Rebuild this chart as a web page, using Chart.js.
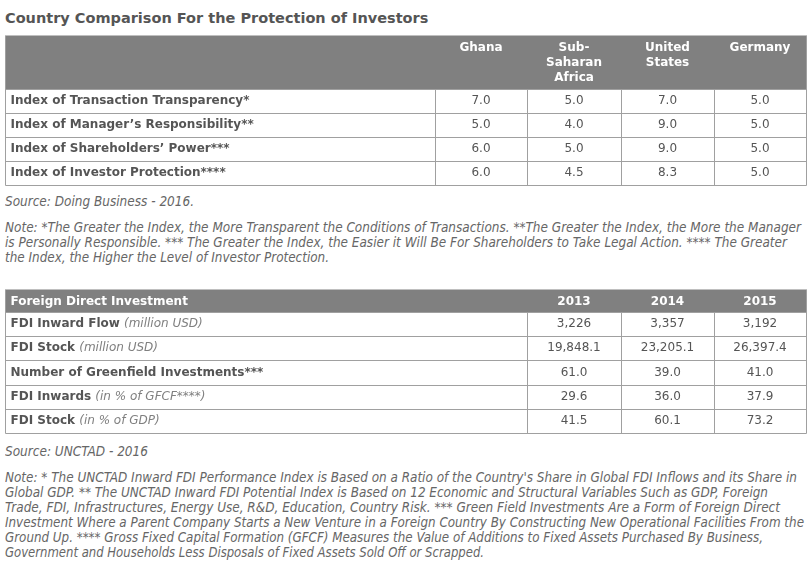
<!DOCTYPE html>
<html>
<head>
<meta charset="utf-8">
<script src="https://cdn.jsdelivr.net/npm/chart.js@4.4.0/dist/chart.umd.min.js"></script>
<style>
body { margin: 0; background: #fff; width: 812px; height: 575px; position: relative; overflow: hidden;
  font-family: "DejaVu Sans", Verdana, sans-serif; color: #555; }
.title { position: absolute; left: 5px; top: 10px; font-size: 14.5px; line-height: 17px; font-weight: bold; color: #555; white-space: nowrap; }
canvas { position: absolute; left: 0; }
.note { position: absolute; left: 5px; font-family: "Liberation Sans Narrow", "DejaVu Sans Condensed", sans-serif;
  font-style: italic; font-size: 13.4px; line-height: 15px; color: #666; white-space: nowrap; }
.note span { display: block; width: max-content; transform-origin: 0 0; }
</style>
</head>
<body>
<div class="title">Country Comparison For the Protection of Investors</div>
<canvas id="protection" width="812" height="160" style="top:30px"></canvas>
<div class="note" style="top:194px"><span>Source: Doing Business - 2016.</span></div>
<div class="note" style="top:220px"><span>Note: *The Greater the Index, the More Transparent the Conditions of Transactions. **The Greater the Index, the More the Manager</span><span>is Personally Responsible. *** The Greater the Index, the Easier it Will Be For Shareholders to Take Legal Action. **** The Greater</span><span>the Index, the Higher the Level of Investor Protection.</span></div>
<canvas id="fdi" width="812" height="155" style="top:285px"></canvas>
<div class="note" style="top:444px"><span>Source: UNCTAD - 2016</span></div>
<div class="note" style="top:470px"><span>Note: * The UNCTAD Inward FDI Performance Index is Based on a Ratio of the Country's Share in Global FDI Inflows and its Share in</span><span>Global GDP. ** The UNCTAD Inward FDI Potential Index is Based on 12 Economic and Structural Variables Such as GDP, Foreign</span><span>Trade, FDI, Infrastructures, Energy Use, R&amp;D, Education, Country Risk. *** Green Field Investments Are a Form of Foreign Direct</span><span>Investment Where a Parent Company Starts a New Venture in a Foreign Country By Constructing New Operational Facilities From the</span><span>Ground Up. **** Gross Fixed Capital Formation (GFCF) Measures the Value of Additions to Fixed Assets Purchased By Business,</span><span>Government and Households Less Disposals of Fixed Assets Sold Off or Scrapped.</span></div>
<script>
"use strict";

// table 1 - protection of investors
var protectionRows = ['Index of Transaction Transparency*', 'Index of Manager\u2019s Responsibility**',
    'Index of Shareholders\u2019 Power***', 'Index of Investor Protection****'];
var countryHeads = [['Ghana'], ['Sub-', 'Saharan', 'Africa'], ['United', 'States'], ['Germany']];
var ghana = [7.0, 5.0, 6.0, 6.0];
var subSaharan = [5.0, 4.0, 5.0, 4.5];
var unitedStates = [7.0, 9.0, 9.0, 8.3];
var germany = [5.0, 5.0, 5.0, 5.0];

// table 2 - foreign direct investment
var fdiTitle = 'Foreign Direct Investment';
var fdiRows = ['FDI Inward Flow', 'FDI Stock', 'Number of Greenfield Investments***', 'FDI Inwards', 'FDI Stock'];
var fdiUnits = ['(million USD)', '(million USD)', '', '(in % of GFCF****)', '(in % of GDP)'];
var fdiDecimals = [0, 1, 1, 1, 1];
var years = ['2013', '2014', '2015'];
var fdi2013 = [3226, 19848.1, 61.0, 29.6, 41.5];
var fdi2014 = [3357, 23205.1, 39.0, 36.0, 60.1];
var fdi2015 = [3192, 26397.4, 41.0, 37.9, 73.2];

// right edge of each note line in the original layout (the local font is a little wider)
var noteLineEnds = [194, 801, 787, 329, 148, 797, 768, 780, 804, 763, 484];

var headGray = '#808080';
var lineGray = '#a0a0a0';
var textGray = '#555555';
var unitGray = '#808080';
var fontFamily = '"DejaVu Sans", Verdana, sans-serif';

var fmt = function(v, d) {
    return v.toLocaleString('en-US', { minimumFractionDigits: d, maximumFractionDigits: d });
};

// the table settings stay in a closure so Chart.js does not treat them as scriptable options
var tablePlugin = function(t) {
    return {
        id: 'tableCells',
        afterDatasetsDraw: function(chart) {
            var ctx = chart.ctx, xs = chart.scales.x, ys = chart.scales.y;
            var edges = t.edges.map(function(e) { return Math.round(xs.getPixelForValue(e)) + 0.5; });
            var band = ys.getPixelForValue(1) - ys.getPixelForValue(0);
            var rowTop = function(i) { return Math.round(ys.getPixelForValue(i) - band / 2) + 0.5; };
            var n = ys.getLabels().length;
            var left = edges[0], right = edges[edges.length - 1];
            var top = rowTop(0), bottom = rowTop(n), headTop = top - t.headerHeight;
            ctx.save();

            // header band
            ctx.fillStyle = headGray;
            ctx.fillRect(left, headTop, right - left, t.headerHeight);
            ctx.fillStyle = '#ffffff';
            ctx.font = 'bold 12px ' + fontFamily;
            ctx.textBaseline = 'middle';
            if (t.cornerText) {
                ctx.textAlign = 'left';
                ctx.fillText(t.cornerText, left + 5, headTop + t.headFirst);
            }
            ctx.textAlign = 'center';
            t.heads.forEach(function(lines, j) {
                var cx = xs.getPixelForValue((t.edges[j + 1] + t.edges[j + 2]) / 2);
                lines.forEach(function(s, k) { ctx.fillText(s, cx, headTop + t.headFirst + k * 15); });
            });

            // grid lines
            ctx.strokeStyle = lineGray;
            ctx.lineWidth = 1;
            ctx.beginPath();
            for (var i = 0; i <= n; i++) {
                ctx.moveTo(left, rowTop(i)); ctx.lineTo(right, rowTop(i));
            }
            edges.forEach(function(x, j) {
                var y0 = (j === 0 || j === edges.length - 1) ? headTop : top;
                ctx.moveTo(x, y0); ctx.lineTo(x, bottom);
            });
            ctx.stroke();

            // row labels
            ctx.textAlign = 'left';
            ys.getLabels().forEach(function(label, i) {
                var cy = ys.getPixelForValue(i);
                ctx.fillStyle = textGray;
                ctx.font = 'bold 12px ' + fontFamily;
                ctx.fillText(label, left + 5, cy);
                if (t.units && t.units[i]) {
                    var w = ctx.measureText(label + ' ').width;
                    ctx.fillStyle = unitGray;
                    ctx.font = 'italic 12px ' + fontFamily;
                    ctx.fillText(t.units[i], left + 5 + w, cy);
                }
            });

            // values, placed at the centre of each cell bar
            ctx.textAlign = 'center';
            ctx.fillStyle = textGray;
            ctx.font = '12px ' + fontFamily;
            t.values.forEach(function(col, j) {
                var meta = chart.getDatasetMeta(j + 1);
                col.forEach(function(v, i) {
                    var p = meta.data[i].getCenterPoint();
                    ctx.fillText(t.format(v, i), p.x, p.y);
                });
            });
            ctx.restore();
        }
    };
};

var createTable = function(el, rows, padding, t) {
    var datasets = [];
    for (var j = 0; j < t.edges.length - 1; j++) {
        datasets.push({
            data: rows.map(function() { return [t.edges[j], t.edges[j + 1]]; }),
            backgroundColor: '#ffffff',
            borderWidth: 0,
            grouped: false,
            barPercentage: 1,
            categoryPercentage: 1
        });
    }
    new Chart(el, {
        type: 'bar',
        data: { labels: rows, datasets: datasets },
        options: {
            indexAxis: 'y',
            responsive: false,
            animation: false,
            events: [],
            layout: { padding: padding },
            scales: {
                x: { type: 'linear', min: 0, max: 812, display: false },
                y: { type: 'category', display: false, offset: true }
            },
            plugins: { legend: { display: false }, tooltip: { enabled: false } }
        },
        plugins: [tablePlugin(t)]
    });
};

createTable(document.getElementById('protection'), protectionRows,
    { top: 59, bottom: 5, left: 0, right: 0 },
    {
        edges: [5, 435, 527, 621, 714, 806],
        values: [ghana, subSaharan, unitedStates, germany],
        headerHeight: 54, headFirst: 12.5, heads: countryHeads,
        format: function(v) { return v.toFixed(1); }
    });

createTable(document.getElementById('fdi'), fdiRows,
    { top: 27, bottom: 7, left: 0, right: 0 },
    {
        edges: [5, 527, 621, 714, 806],
        values: [fdi2013, fdi2014, fdi2015],
        headerHeight: 23, headFirst: 12, heads: years.map(function(y) { return [y]; }),
        cornerText: fdiTitle, units: fdiUnits,
        format: function(v, i) { return fmt(v, fdiDecimals[i]); }
    });

// squeeze each note line to the width it has in the original
Array.prototype.forEach.call(document.querySelectorAll('.note span'), function(s, i) {
    var w = s.getBoundingClientRect().width;
    s.style.transform = 'scaleX(' + ((noteLineEnds[i] - 5) / w) + ')';
});
</script>
</body>
</html>
